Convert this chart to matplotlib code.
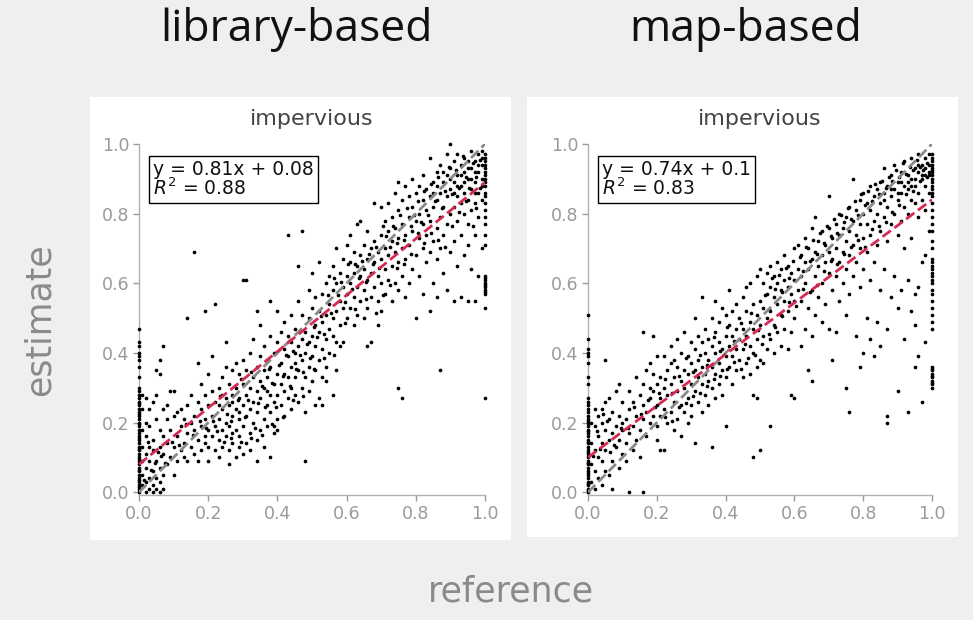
import numpy as np
import matplotlib
matplotlib.use("Agg")
import matplotlib.pyplot as plt
from matplotlib.patches import Rectangle

# ---- data (reference, estimate) ----
panel_titles = ["library-based", "map-based"]
subtitle = "impervious"
fits = [(0.81, 0.08, 0.88), (0.74, 0.1, 0.83)]
fit_labels = ["y = 0.81x + 0.08\n$R^2$ = 0.88", "y = 0.74x + 0.1\n$R^2$ = 0.83"]
ticks = [0.0, 0.2, 0.4, 0.6, 0.8, 1.0]

# points sitting on x = 0 and x = 1
lib_zero_y = [0.00, 0.01, 0.015, 0.02, 0.03, 0.035, 0.04, 0.05, 0.06, 0.065, 0.07, 0.08,
              0.09, 0.095, 0.10, 0.11, 0.12, 0.125, 0.13, 0.14, 0.15, 0.155, 0.16, 0.17,
              0.18, 0.19, 0.195, 0.20, 0.21, 0.22, 0.225, 0.23, 0.24, 0.25, 0.255, 0.26,
              0.27, 0.28, 0.29, 0.30, 0.33, 0.36, 0.38, 0.39, 0.40, 0.42, 0.43, 0.47]
lib_one_y = [0.97, 0.96, 0.95, 0.94, 0.93, 0.92, 0.91, 0.90, 0.89, 0.88, 0.86, 0.85, 0.83,
             0.81, 0.79, 0.77, 0.74, 0.71, 0.62, 0.615, 0.61, 0.60, 0.595, 0.59, 0.58,
             0.575, 0.57, 0.53, 0.27]
map_zero_y = [0.00, 0.005, 0.01, 0.02, 0.025, 0.03, 0.04, 0.05, 0.055, 0.06, 0.07, 0.08,
              0.085, 0.09, 0.10, 0.11, 0.115, 0.12, 0.13, 0.14, 0.145, 0.15, 0.16, 0.17,
              0.175, 0.18, 0.19, 0.20, 0.205, 0.21, 0.22, 0.23, 0.24, 0.25, 0.26, 0.27,
              0.31, 0.33, 0.37, 0.39, 0.40, 0.41, 0.44, 0.51]
map_one_y = [0.97, 0.96, 0.95, 0.94, 0.93, 0.925, 0.92, 0.91, 0.90, 0.89, 0.88, 0.87, 0.86,
             0.85, 0.83, 0.81, 0.79, 0.77, 0.75, 0.72, 0.70, 0.67, 0.66, 0.65, 0.64, 0.63,
             0.62, 0.61, 0.60, 0.58, 0.57, 0.55, 0.53, 0.51, 0.49, 0.47, 0.36, 0.355, 0.35,
             0.34, 0.335, 0.33, 0.32, 0.315, 0.31, 0.30]

lib_pts = """
0.01 0.02 0.01 0.05 0.01 0.09 0.01 0.13 0.01 0.18 0.01 0.24 0.01 0.28 0.02 0.00 0.02 0.03
0.02 0.07 0.02 0.11 0.02 0.16 0.02 0.20 0.02 0.27 0.03 0.01 0.03 0.04 0.03 0.09 0.03 0.13
0.03 0.19 0.03 0.24 0.04 0.00 0.04 0.02 0.04 0.06 0.04 0.12 0.04 0.15 0.04 0.26 0.05 0.01
0.05 0.04 0.05 0.09 0.05 0.21 0.05 0.35 0.05 0.28 0.06 0.00 0.06 0.03 0.06 0.07 0.06 0.13
0.06 0.18 0.06 0.38 0.06 0.34 0.07 0.01 0.07 0.05 0.07 0.11 0.07 0.16 0.07 0.24 0.07 0.42
0.08 0.08 0.08 0.14 0.08 0.21 0.08 0.25 0.09 0.10 0.09 0.18 0.09 0.29 0.10 0.05 0.10 0.13
0.10 0.22 0.10 0.29 0.11 0.09 0.11 0.16 0.11 0.23 0.12 0.12 0.12 0.19 0.12 0.24 0.13 0.14
0.13 0.21 0.13 0.10 0.14 0.17 0.14 0.25 0.14 0.50 0.14 0.09 0.15 0.13 0.15 0.20 0.15 0.28
0.16 0.11 0.16 0.18 0.16 0.22 0.16 0.69 0.17 0.09 0.17 0.15 0.17 0.26 0.17 0.37 0.18 0.12
0.18 0.19 0.18 0.24 0.18 0.31 0.19 0.16 0.19 0.14 0.19 0.21 0.19 0.28 0.19 0.52 0.20 0.13
0.20 0.18 0.20 0.25 0.20 0.34 0.20 0.09 0.21 0.16 0.21 0.22 0.21 0.29 0.21 0.39 0.22 0.12
0.22 0.19 0.22 0.26 0.22 0.54 0.23 0.15 0.23 0.21 0.23 0.30 0.23 0.10 0.24 0.18 0.24 0.24
0.24 0.33 0.24 0.13 0.25 0.20 0.25 0.27 0.25 0.16 0.25 0.36 0.25 0.43 0.26 0.08 0.26 0.12
0.26 0.19 0.26 0.25 0.26 0.31 0.27 0.14 0.27 0.22 0.27 0.28 0.27 0.35 0.27 0.17 0.28 0.10
0.28 0.18 0.28 0.24 0.28 0.30 0.28 0.37 0.29 0.13 0.29 0.21 0.29 0.27 0.29 0.34 0.29 0.16
0.30 0.19 0.30 0.25 0.30 0.31 0.30 0.38 0.30 0.61 0.30 0.11 0.29 0.23 0.27 0.26 0.23 0.25
0.24 0.28 0.31 0.14 0.31 0.22 0.31 0.28 0.31 0.35 0.31 0.61 0.32 0.17 0.32 0.24 0.32 0.30
0.32 0.40 0.32 0.12 0.33 0.20 0.33 0.26 0.33 0.33 0.33 0.44 0.34 0.09 0.34 0.15 0.34 0.23
0.34 0.29 0.34 0.36 0.34 0.52 0.35 0.18 0.35 0.27 0.35 0.32 0.35 0.39 0.35 0.48 0.36 0.13
0.36 0.21 0.36 0.30 0.36 0.35 0.36 0.42 0.37 0.19 0.37 0.25 0.37 0.33 0.37 0.38 0.37 0.29
0.38 0.10 0.38 0.23 0.38 0.28 0.38 0.36 0.38 0.55 0.38 0.45 0.39 0.17 0.39 0.26 0.39 0.31
0.39 0.40 0.39 0.19 0.40 0.21 0.40 0.28 0.40 0.34 0.40 0.43 0.40 0.52 0.40 0.18 0.41 0.25
0.41 0.31 0.41 0.37 0.41 0.46 0.42 0.22 0.42 0.29 0.42 0.34 0.42 0.41 0.42 0.49 0.43 0.27
0.43 0.33 0.43 0.39 0.43 0.45 0.43 0.74 0.44 0.24 0.44 0.30 0.44 0.36 0.44 0.43 0.44 0.51
0.45 0.28 0.45 0.33 0.45 0.40 0.45 0.47 0.45 0.37 0.46 0.26 0.46 0.35 0.46 0.42 0.46 0.65
0.46 0.55 0.47 0.30 0.47 0.38 0.47 0.44 0.47 0.75 0.47 0.51 0.48 0.09 0.48 0.23 0.48 0.33
0.48 0.40 0.48 0.46 0.49 0.29 0.49 0.36 0.49 0.43 0.49 0.50 0.49 0.58 0.50 0.32 0.50 0.39
0.50 0.45 0.50 0.53 0.50 0.63 0.51 0.25 0.51 0.35 0.51 0.42 0.51 0.48 0.51 0.56 0.52 0.27
0.52 0.38 0.52 0.46 0.52 0.52 0.52 0.66 0.53 0.33 0.53 0.41 0.53 0.49 0.53 0.57 0.53 0.25
0.54 0.36 0.54 0.44 0.54 0.51 0.54 0.60 0.54 0.32 0.55 0.40 0.55 0.47 0.55 0.54 0.55 0.62
0.56 0.28 0.56 0.45 0.56 0.50 0.56 0.58 0.56 0.65 0.57 0.35 0.57 0.43 0.57 0.52 0.57 0.60
0.57 0.70 0.58 0.42 0.58 0.48 0.58 0.55 0.58 0.63 0.59 0.43 0.59 0.53 0.59 0.59 0.59 0.67
0.60 0.50 0.60 0.57 0.60 0.62 0.60 0.71 0.61 0.53 0.61 0.60 0.61 0.66 0.61 0.74 0.62 0.48
0.62 0.56 0.62 0.63 0.62 0.69 0.63 0.51 0.63 0.59 0.63 0.65 0.63 0.77 0.64 0.55 0.64 0.62
0.64 0.68 0.64 0.78 0.65 0.50 0.65 0.58 0.65 0.64 0.65 0.71 0.66 0.42 0.66 0.53 0.66 0.61
0.66 0.67 0.66 0.75 0.67 0.56 0.67 0.63 0.67 0.70 0.67 0.43 0.68 0.59 0.68 0.66 0.68 0.72
0.68 0.83 0.69 0.48 0.69 0.55 0.69 0.62 0.69 0.69 0.70 0.52 0.70 0.60 0.70 0.67 0.70 0.74
0.70 0.82 0.71 0.57 0.71 0.64 0.71 0.70 0.71 0.78 0.72 0.61 0.72 0.68 0.72 0.75 0.72 0.83
0.73 0.55 0.73 0.65 0.73 0.72 0.73 0.79 0.74 0.60 0.74 0.69 0.74 0.76 0.74 0.86 0.75 0.30
0.75 0.58 0.75 0.66 0.75 0.73 0.75 0.81 0.75 0.89 0.76 0.27 0.76 0.62 0.76 0.70 0.76 0.77
0.76 0.84 0.77 0.56 0.77 0.67 0.77 0.74 0.77 0.88 0.78 0.60 0.78 0.71 0.78 0.79 0.78 0.85
0.79 0.64 0.79 0.75 0.79 0.82 0.79 0.90 0.80 0.50 0.80 0.68 0.80 0.78 0.80 0.86 0.81 0.62
0.81 0.73 0.81 0.80 0.81 0.88 0.82 0.57 0.82 0.70 0.82 0.77 0.82 0.84 0.82 0.91 0.83 0.66
0.83 0.74 0.83 0.81 0.83 0.87 0.84 0.52 0.84 0.69 0.84 0.78 0.84 0.85 0.84 0.96 0.85 0.60
0.85 0.72 0.85 0.82 0.85 0.89 0.86 0.56 0.86 0.67 0.86 0.76 0.86 0.84 0.86 0.92 0.87 0.35
0.87 0.70 0.87 0.79 0.87 0.86 0.87 0.94 0.88 0.63 0.88 0.74 0.88 0.82 0.88 0.89 0.89 0.58
0.89 0.77 0.89 0.85 0.89 0.91 0.89 0.97 0.90 0.69 0.90 0.80 0.90 0.87 0.90 0.93 0.90 1.00
0.91 0.55 0.91 0.72 0.91 0.82 0.91 0.89 0.91 0.95 0.92 0.65 0.92 0.78 0.92 0.85 0.92 0.91
0.92 0.97 0.93 0.56 0.93 0.74 0.93 0.83 0.93 0.88 0.93 0.94 0.94 0.68 0.94 0.80 0.94 0.86
0.94 0.92 0.94 0.96 0.95 0.55 0.95 0.71 0.95 0.77 0.95 0.84 0.95 0.90 0.95 0.95 0.96 0.64
0.96 0.81 0.96 0.87 0.96 0.93 0.96 0.98 0.97 0.55 0.97 0.74 0.97 0.83 0.97 0.89 0.97 0.95
0.98 0.62 0.98 0.79 0.98 0.86 0.98 0.92 0.98 0.97 0.99 0.70 0.99 0.84 0.99 0.90 0.99 0.94
0.99 0.98 0.93 0.91 0.94 0.89 0.96 0.90 0.97 0.92 0.98 0.94 0.99 0.96 0.92 0.88 0.95 0.93
0.97 0.86 0.99 0.88 0.90 0.90 0.91 0.86 0.88 0.92 0.86 0.88 0.85 0.86
"""

# extra points filling the dense band along the diagonal
lib_pts_dense = """
0.215 0.205 0.235 0.275 0.255 0.225 0.265 0.155 0.285 0.265 0.295 0.325 0.305 0.215
0.315 0.265 0.325 0.345 0.335 0.185 0.345 0.255 0.355 0.305 0.365 0.245 0.375 0.355
0.385 0.315 0.395 0.245 0.405 0.365 0.415 0.335 0.425 0.395 0.435 0.305 0.445 0.405
0.455 0.355 0.465 0.395 0.475 0.345 0.485 0.425 0.495 0.385 0.505 0.475 0.515 0.445
0.525 0.505 0.535 0.455 0.545 0.565 0.555 0.515 0.565 0.615 0.575 0.565 0.585 0.605
0.595 0.545 0.605 0.655 0.615 0.585 0.625 0.655 0.635 0.615 0.645 0.665 0.655 0.605
0.665 0.685 0.675 0.655 0.685 0.705 0.695 0.645 0.705 0.765 0.715 0.735 0.725 0.705
0.735 0.765 0.745 0.715 0.755 0.795 0.765 0.725 0.775 0.815 0.785 0.765 0.795 0.795
0.805 0.835 0.815 0.775 0.825 0.865 0.835 0.795 0.845 0.885 0.855 0.835 0.865 0.905
0.875 0.815 0.885 0.865 0.895 0.935 0.905 0.855 0.915 0.925 0.925 0.875 0.935 0.965
0.945 0.905 0.955 0.875 0.965 0.945 0.975 0.905 0.985 0.955 0.985 0.875 0.975 0.815
0.965 0.765 0.945 0.835 0.925 0.805 0.905 0.765 0.885 0.705 0.865 0.725 0.845 0.745
0.825 0.715 0.805 0.745 0.785 0.685 0.765 0.655 0.745 0.645 0.725 0.595 0.705 0.565
0.685 0.515 0.655 0.555 0.625 0.525 0.595 0.485 0.565 0.395 0.535 0.385 0.505 0.355
0.475 0.275 0.445 0.265 0.415 0.215 0.385 0.195 0.355 0.165 0.325 0.155 0.295 0.145
0.265 0.205 0.245 0.145 0.225 0.175 0.195 0.185 0.175 0.205 0.155 0.165 0.135 0.195
0.115 0.135 0.095 0.145 0.075 0.085 0.055 0.115 0.035 0.065 0.025 0.145 0.015 0.035
0.045 0.085 0.065 0.105
"""

map_pts = """
0.01 0.03 0.01 0.08 0.01 0.14 0.01 0.20 0.02 0.01 0.02 0.06 0.02 0.12 0.02 0.19 0.02 0.24
0.03 0.04 0.03 0.10 0.03 0.16 0.03 0.22 0.04 0.02 0.04 0.09 0.04 0.14 0.04 0.20 0.04 0.24
0.05 0.06 0.05 0.12 0.05 0.18 0.05 0.26 0.05 0.38 0.06 0.05 0.06 0.15 0.06 0.21 0.06 0.27
0.07 0.01 0.07 0.09 0.07 0.17 0.07 0.23 0.08 0.13 0.08 0.19 0.08 0.29 0.09 0.07 0.09 0.15
0.09 0.22 0.09 0.31 0.10 0.11 0.10 0.18 0.10 0.26 0.10 0.20 0.11 0.14 0.11 0.21 0.11 0.09
0.12 0.00 0.12 0.17 0.12 0.24 0.12 0.29 0.13 0.12 0.13 0.19 0.13 0.26 0.14 0.15 0.14 0.22
0.14 0.33 0.15 0.10 0.15 0.18 0.15 0.28 0.16 0.00 0.16 0.21 0.16 0.25 0.16 0.46 0.16 0.31
0.17 0.16 0.17 0.23 0.17 0.35 0.18 0.20 0.18 0.27 0.18 0.37 0.18 0.30 0.19 0.22 0.19 0.29
0.19 0.45 0.19 0.34 0.20 0.15 0.20 0.25 0.20 0.31 0.20 0.39 0.20 0.19 0.21 0.12 0.21 0.27
0.21 0.33 0.21 0.22 0.22 0.12 0.22 0.24 0.22 0.30 0.22 0.39 0.23 0.20 0.23 0.28 0.23 0.35
0.24 0.23 0.24 0.31 0.24 0.37 0.24 0.42 0.25 0.18 0.25 0.26 0.25 0.33 0.25 0.38 0.26 0.21
0.26 0.29 0.26 0.36 0.26 0.44 0.27 0.16 0.27 0.25 0.27 0.32 0.27 0.40 0.28 0.23 0.28 0.30
0.28 0.35 0.28 0.46 0.29 0.20 0.29 0.27 0.29 0.34 0.29 0.39 0.30 0.25 0.30 0.31 0.30 0.37
0.30 0.43 0.30 0.22 0.31 0.14 0.31 0.29 0.31 0.35 0.31 0.41 0.31 0.50 0.32 0.26 0.32 0.33
0.32 0.38 0.32 0.45 0.33 0.23 0.33 0.31 0.33 0.36 0.33 0.43 0.33 0.56 0.34 0.28 0.34 0.34
0.34 0.40 0.34 0.47 0.35 0.25 0.35 0.32 0.35 0.38 0.35 0.44 0.36 0.13 0.36 0.30 0.36 0.36
0.36 0.42 0.36 0.50 0.37 0.27 0.37 0.34 0.37 0.40 0.37 0.46 0.37 0.55 0.38 0.31 0.38 0.37
0.38 0.43 0.38 0.49 0.39 0.28 0.39 0.35 0.39 0.41 0.39 0.53 0.40 0.19 0.40 0.33 0.40 0.39
0.40 0.45 0.40 0.51 0.41 0.36 0.41 0.42 0.41 0.48 0.41 0.58 0.42 0.31 0.42 0.39 0.42 0.45
0.42 0.52 0.43 0.35 0.43 0.41 0.43 0.47 0.43 0.54 0.44 0.38 0.44 0.44 0.44 0.50 0.45 0.33
0.45 0.41 0.45 0.47 0.45 0.56 0.46 0.37 0.46 0.45 0.46 0.52 0.46 0.59 0.47 0.34 0.47 0.42
0.47 0.49 0.47 0.60 0.48 0.10 0.48 0.28 0.48 0.40 0.48 0.47 0.48 0.54 0.49 0.36 0.49 0.44
0.49 0.51 0.49 0.62 0.50 0.12 0.50 0.38 0.50 0.48 0.50 0.55 0.50 0.64 0.49 0.27 0.51 0.37
0.51 0.45 0.51 0.53 0.51 0.60 0.52 0.41 0.52 0.50 0.52 0.57 0.52 0.63 0.53 0.19 0.53 0.44
0.53 0.52 0.53 0.59 0.53 0.65 0.54 0.40 0.54 0.48 0.54 0.56 0.54 0.62 0.55 0.46 0.55 0.54
0.55 0.60 0.55 0.66 0.56 0.42 0.56 0.51 0.56 0.58 0.56 0.64 0.57 0.47 0.57 0.55 0.57 0.61
0.57 0.68 0.58 0.41 0.58 0.52 0.58 0.59 0.58 0.65 0.59 0.28 0.59 0.46 0.59 0.57 0.59 0.63
0.60 0.27 0.60 0.50 0.60 0.55 0.60 0.61 0.60 0.70 0.61 0.58 0.61 0.64 0.61 0.71 0.62 0.42
0.62 0.55 0.62 0.62 0.62 0.68 0.63 0.47 0.63 0.60 0.63 0.66 0.63 0.73 0.64 0.35 0.64 0.53
0.64 0.64 0.64 0.70 0.65 0.45 0.65 0.58 0.65 0.67 0.65 0.76 0.65 0.32 0.66 0.51 0.66 0.62
0.66 0.69 0.66 0.79 0.67 0.56 0.67 0.65 0.67 0.72 0.68 0.49 0.68 0.60 0.68 0.68 0.68 0.75
0.69 0.54 0.69 0.66 0.69 0.71 0.70 0.47 0.70 0.63 0.70 0.69 0.70 0.76 0.70 0.85 0.71 0.38
0.71 0.58 0.71 0.67 0.71 0.73 0.72 0.46 0.72 0.62 0.72 0.70 0.72 0.77 0.73 0.55 0.73 0.66
0.73 0.74 0.73 0.80 0.74 0.60 0.74 0.69 0.74 0.76 0.75 0.30 0.75 0.51 0.75 0.64 0.75 0.72
0.75 0.79 0.76 0.23 0.76 0.57 0.76 0.68 0.76 0.75 0.76 0.82 0.77 0.62 0.77 0.71 0.77 0.78
0.77 0.90 0.78 0.45 0.78 0.66 0.78 0.74 0.78 0.81 0.79 0.36 0.79 0.59 0.79 0.70 0.79 0.77
0.79 0.84 0.80 0.40 0.80 0.64 0.80 0.73 0.80 0.80 0.80 0.86 0.81 0.50 0.81 0.69 0.81 0.77
0.81 0.83 0.82 0.44 0.82 0.61 0.82 0.74 0.82 0.81 0.82 0.88 0.83 0.39 0.83 0.66 0.83 0.78
0.83 0.85 0.84 0.49 0.84 0.71 0.84 0.80 0.84 0.87 0.85 0.42 0.85 0.58 0.85 0.75 0.85 0.83
0.85 0.89 0.86 0.64 0.86 0.79 0.86 0.86 0.86 0.93 0.87 0.22 0.87 0.20 0.87 0.47 0.87 0.72
0.87 0.82 0.87 0.88 0.88 0.56 0.88 0.77 0.88 0.85 0.88 0.91 0.89 0.62 0.89 0.80 0.89 0.87
0.89 0.94 0.90 0.29 0.90 0.53 0.90 0.74 0.90 0.84 0.90 0.89 0.91 0.58 0.91 0.78 0.91 0.86
0.91 0.92 0.92 0.44 0.92 0.70 0.92 0.82 0.92 0.88 0.92 0.95 0.93 0.23 0.93 0.61 0.93 0.80
0.93 0.87 0.93 0.91 0.94 0.52 0.94 0.73 0.94 0.84 0.94 0.90 0.94 0.96 0.95 0.36 0.95 0.48
0.95 0.57 0.95 0.83 0.95 0.88 0.95 0.93 0.96 0.39 0.96 0.59 0.96 0.79 0.96 0.86 0.96 0.92
0.96 0.97 0.97 0.26 0.97 0.66 0.97 0.84 0.97 0.90 0.97 0.94 0.98 0.43 0.98 0.68 0.98 0.81
0.98 0.88 0.98 0.93 0.98 0.96 0.99 0.75 0.99 0.86 0.99 0.91 0.99 0.94 0.99 0.97 0.97 0.91
0.96 0.94 0.95 0.90 0.98 0.91 0.99 0.92 0.94 0.88 0.93 0.89 0.91 0.89 0.90 0.86 0.88 0.87
0.86 0.84
"""

map_pts_dense = """
0.205 0.285 0.225 0.325 0.245 0.285 0.265 0.335 0.285 0.385 0.305 0.345 0.325 0.395
0.345 0.365 0.365 0.445 0.385 0.405 0.405 0.475 0.425 0.435 0.445 0.485 0.455 0.425
0.475 0.515 0.495 0.465 0.515 0.565 0.525 0.525 0.535 0.615 0.545 0.585 0.555 0.625
0.565 0.575 0.575 0.645 0.585 0.615 0.595 0.665 0.615 0.675 0.625 0.635 0.635 0.705
0.645 0.665 0.655 0.725 0.665 0.685 0.675 0.745 0.685 0.715 0.695 0.765 0.705 0.735
0.715 0.785 0.725 0.745 0.735 0.795 0.745 0.775 0.755 0.815 0.765 0.785 0.775 0.835
0.785 0.795 0.795 0.855 0.805 0.825 0.815 0.865 0.825 0.835 0.835 0.885 0.845 0.855
0.855 0.895 0.865 0.875 0.875 0.905 0.885 0.895 0.895 0.925 0.905 0.905 0.915 0.945
0.925 0.915 0.935 0.935 0.945 0.925 0.955 0.955 0.965 0.935 0.975 0.925 0.985 0.945
0.985 0.905 0.965 0.895 0.945 0.865 0.925 0.855 0.905 0.825 0.885 0.805 0.865 0.775
0.845 0.765 0.825 0.755 0.805 0.705 0.785 0.725 0.765 0.705 0.745 0.685 0.725 0.655
0.705 0.665 0.685 0.635 0.665 0.595 0.645 0.575 0.625 0.585 0.605 0.535 0.585 0.545
0.565 0.505 0.545 0.475 0.525 0.455 0.505 0.425 0.485 0.395 0.465 0.385 0.445 0.355
0.425 0.375 0.405 0.355 0.385 0.335 0.365 0.325 0.345 0.305 0.325 0.285 0.305 0.275
0.285 0.255 0.265 0.245 0.245 0.205 0.225 0.215 0.195 0.245 0.175 0.265 0.155 0.225
0.135 0.245 0.115 0.185 0.095 0.185 0.075 0.135 0.055 0.205 0.035 0.125 0.025 0.175
0.015 0.105 0.045 0.225 0.065 0.115
"""


def parse(txt, dense, zero_y, one_y):
    v = np.array((txt + dense).split(), dtype=float).reshape(-1, 2)
    x = np.concatenate([v[:, 0], np.zeros(len(zero_y)), np.ones(len(one_y))])
    y = np.concatenate([v[:, 1], zero_y, one_y])
    return x, y


data = [parse(lib_pts, lib_pts_dense, lib_zero_y, lib_one_y),
        parse(map_pts, map_pts_dense, map_zero_y, map_one_y)]

# ---- figure ----
plt.rcParams['font.family'] = 'DejaVu Sans'
fig = plt.figure(figsize=(9.73, 6.2), dpi=100, facecolor='#efefef')
W, H = 973.0, 620.0

# white panel backgrounds (pixel boxes: left, top, right, bottom)
for (l, t, r, b) in [(90, 97, 511, 540), (527, 97, 958, 537)]:
    fig.patches.append(Rectangle((l / W, 1 - b / H), (r - l) / W, (b - t) / H,
                                 transform=fig.transFigure, facecolor='white',
                                 edgecolor='none', zorder=-5))

axes_px = [(139, 485), (588, 932)]
title_x = [297, 746]
for i, (ax_l, ax_r) in enumerate(axes_px):
    ax = fig.add_axes([ax_l / W, 1 - 495 / H, (ax_r - ax_l) / W, (495 - 144) / H])
    ax.set_zorder(2)
    ax.set_facecolor('none')
    x, y = data[i]
    ax.scatter(x, y, s=7, c='black', linewidths=0, clip_on=False, zorder=3)
    line_x = np.array([0.0, 1.0])
    ax.plot(line_x, line_x, ls='--', color='#8a8a8a', lw=2, zorder=4)
    m, c0, r2 = fits[i]
    ax.plot(line_x, m * line_x + c0, ls='--', color='#d62a52', lw=2, zorder=5)

    ax.set_xlim(0, 1.0)
    ax.set_ylim(-0.008, 1.0)
    ax.set_xticks(ticks)
    ax.set_yticks(ticks)
    ax.set_xticklabels([f"{t:.1f}" for t in ticks])
    ax.set_yticklabels([f"{t:.1f}" for t in ticks])
    for side in ['top', 'right']:
        ax.spines[side].set_visible(False)
    for side in ['left', 'bottom']:
        ax.spines[side].set_color('#b0b0b0')
        ax.spines[side].set_linewidth(1)
    ax.tick_params(colors='#9a9a9a', labelsize=12.5, length=4, width=1, pad=3)
    ax.set_title(subtitle, fontsize=16, color='#444444', pad=14)

    ax.text(0.04, 0.955, fit_labels[i], transform=ax.transAxes, va='top', ha='left',
            fontsize=13.5, color='#111111', linespacing=0.9, zorder=6,
            bbox=dict(boxstyle='square,pad=0.22', facecolor='white',
                      edgecolor='black', linewidth=1))

    fig.text(title_x[i] / W, 1 - 30 / H, panel_titles[i], fontsize=32,
             family='Open Sans', ha='center', va='center', color='#111111')

fig.text(40 / W, 1 - 320 / H, "estimate", rotation=90, fontsize=25,
         color='#8a8a8a', ha='center', va='center')
fig.text(511 / W, 1 - 592 / H, "reference", fontsize=25, color='#8a8a8a',
         ha='center', va='center')

fig.savefig("out.png", dpi=100, facecolor=fig.get_facecolor())
